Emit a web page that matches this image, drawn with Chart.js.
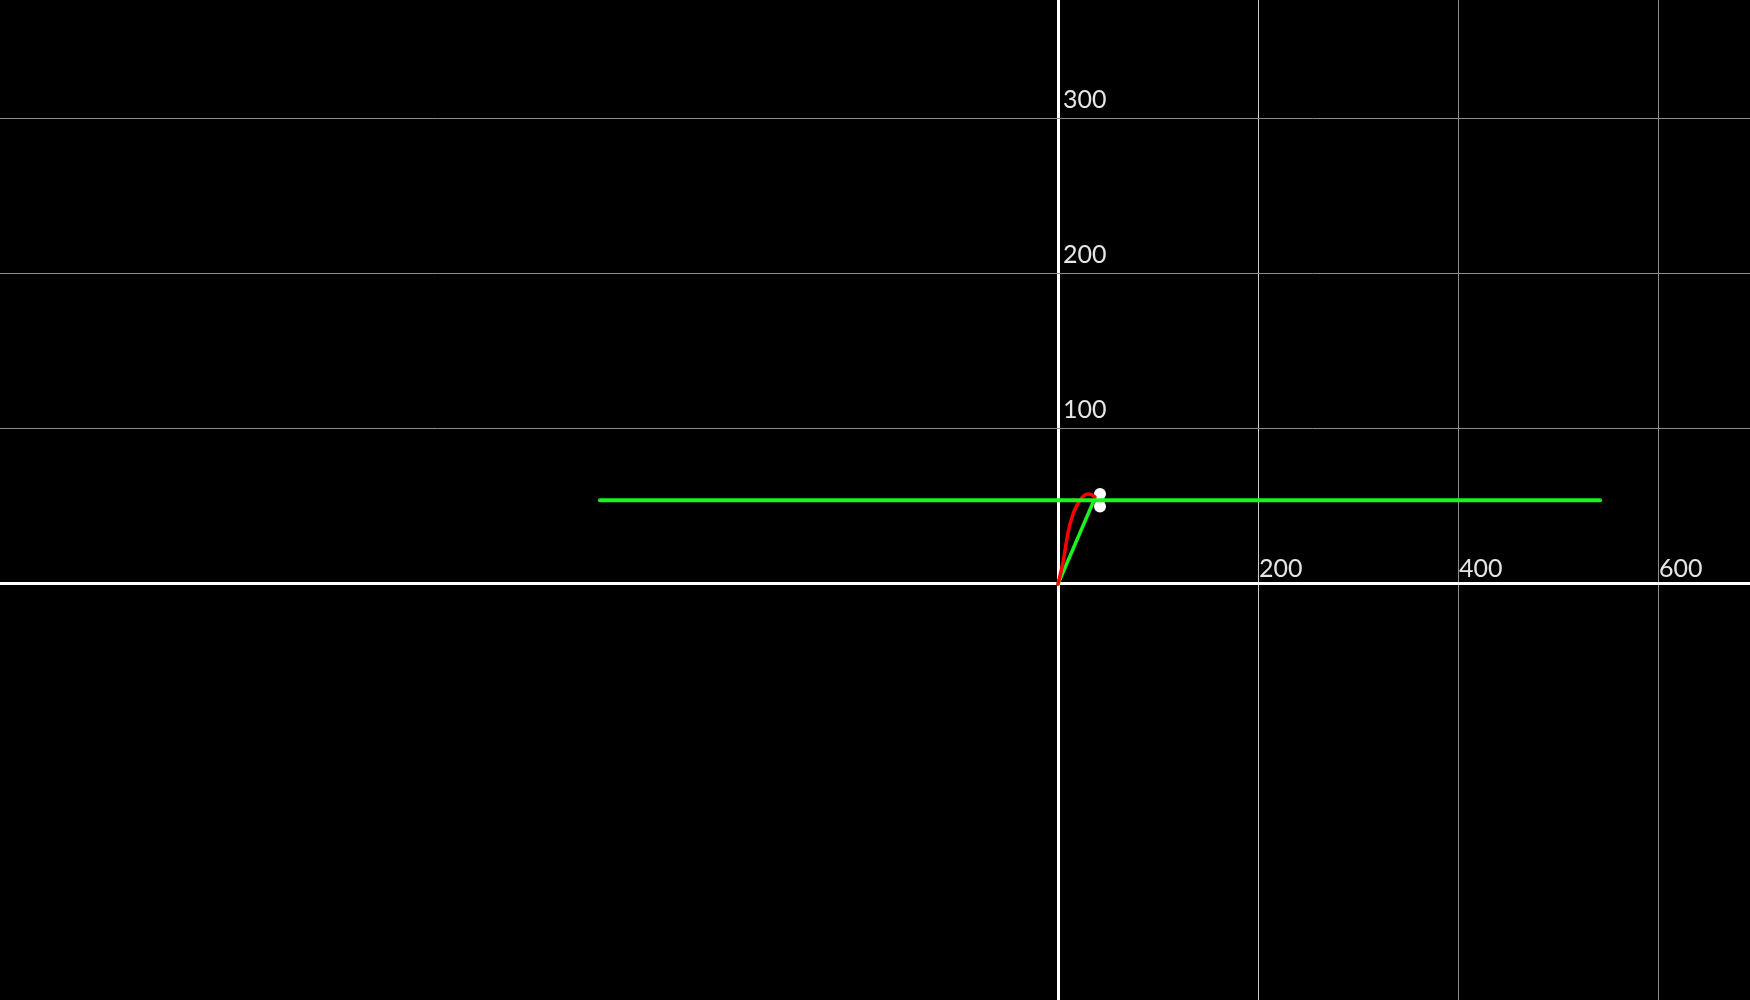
<!DOCTYPE html>
<html>
<head>
<meta charset="utf-8">
<script src="https://cdn.jsdelivr.net/npm/chart.js@4/dist/chart.umd.min.js"></script>
<style>
  html, body { margin: 0; padding: 0; background: #000; }
  #wrap { width: 1750px; height: 1000px; }
</style>
</head>
<body>
<div id="wrap"><canvas id="c" width="1750" height="1000"></canvas></div>
<script>
// ---- data ----
const redX = [0, 5, 10, 15, 20, 25, 30, 34, 37];
const redY = [0, 14, 33, 45, 52, 56.5, 58, 57.5, 56];
const diagX = [0, 36];
const diagY = [0, 54];
const flatX = [-458, 542];
const flatY = [54, 54];
const dotX = [42, 42];
const dotY = [58, 50];
const xTickLabels = [200, 400, 600];
const yTickLabels = [100, 200, 300];
const xRange = [-1058, 692];
const yRange = [-268.39, 376.77];

const pts = (xs, ys) => xs.map((x, i) => ({ x: x, y: ys[i] }));

const labelPlugin = {
  id: 'axisLabels',
  afterDatasetsDraw(chart) {
    const ctx = chart.ctx;
    const xs = chart.scales.x, ys = chart.scales.y;
    const x0 = xs.getPixelForValue(0), y0 = ys.getPixelForValue(0);
    ctx.save();
    ctx.fillStyle = '#e6e6e6';
    ctx.font = '25px Lato';
    ctx.textAlign = 'left';
    ctx.textBaseline = 'alphabetic';
    xTickLabels.forEach(v => {
      ctx.fillText(String(v), xs.getPixelForValue(v) + 1, y0 - 7);
    });
    yTickLabels.forEach(v => {
      ctx.fillText(String(v), x0 + 5, ys.getPixelForValue(v) - 11);
    });
    ctx.restore();
  }
};

function gridColor(ctx, labels) {
  const v = ctx.tick ? ctx.tick.value : null;
  if (v === 0) return '#ffffff';
  if (labels.includes(v)) return v === labels[0] && labels === xTickLabels ? '#d0d0d0' : '#8c8c8c';
  return 'rgba(0,0,0,0)';
}
function gridWidth(ctx) {
  const v = ctx.tick ? ctx.tick.value : null;
  return v === 0 ? 3 : 1;
}

new Chart(document.getElementById('c'), {
  type: 'scatter',
  data: {
    datasets: [
      {
        data: pts(flatX, flatY), showLine: true, borderColor: '#19f51e', borderWidth: 4,
        pointRadius: 0, borderCapStyle: 'round'
      },
      {
        data: pts(redX, redY), showLine: true, borderColor: '#ff0000', borderWidth: 3.5,
        pointRadius: 0, cubicInterpolationMode: 'monotone', borderCapStyle: 'round'
      },
      {
        data: pts(diagX, diagY), showLine: true, borderColor: '#19f51e', borderWidth: 3.5,
        pointRadius: 0, borderCapStyle: 'round'
      },
      {
        data: pts(dotX, dotY), showLine: false, pointRadius: 6,
        pointBackgroundColor: '#ffffff', pointBorderColor: '#ffffff', pointBorderWidth: 0
      }
    ]
  },
  options: {
    responsive: false,
    animation: false,
    events: [],
    layout: { padding: 0, autoPadding: false },
    plugins: { legend: { display: false }, tooltip: { enabled: false } },
    scales: {
      x: {
        type: 'linear', min: xRange[0], max: xRange[1],
        ticks: { display: false, stepSize: 200 },
        border: { display: false },
        grid: {
          drawTicks: false,
          color: ctx => gridColor(ctx, xTickLabels),
          lineWidth: gridWidth
        }
      },
      y: {
        type: 'linear', min: yRange[0], max: yRange[1],
        ticks: { display: false, stepSize: 100 },
        border: { display: false },
        grid: {
          drawTicks: false,
          color: ctx => gridColor(ctx, yTickLabels),
          lineWidth: gridWidth
        }
      }
    }
  },
  plugins: [labelPlugin]
});
</script>
</body>
</html>
